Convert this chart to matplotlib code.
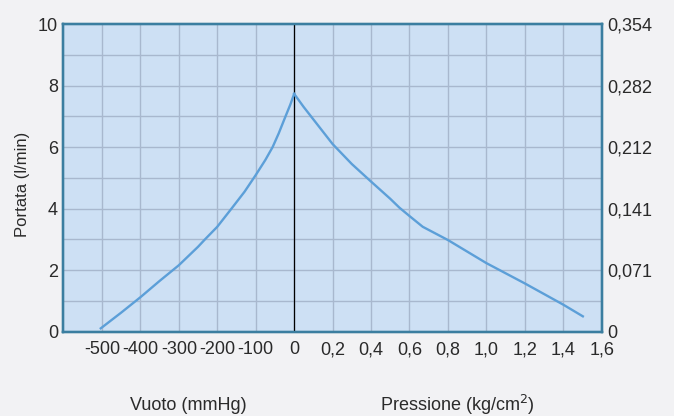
import matplotlib
matplotlib.use("Agg")
import matplotlib.pyplot as plt

# Data
vuoto_mmhg = [-503, -450, -400, -350, -300, -250, -232, -200,
              -163, -150, -129, -100, -75, -56, -40, -24, -10, 0]
vuoto_portata = [0.11, 0.62, 1.12, 1.65, 2.16, 2.76, 3.0, 3.41,
                 4.0, 4.21, 4.55, 5.09, 5.58, 6.0, 6.45, 6.95, 7.38, 7.73]
pressione_kg = [0, 0.05, 0.1, 0.2, 0.3, 0.4, 0.5, 0.548, 0.6, 0.669,
                0.8, 1.0, 1.2, 1.4, 1.502]
pressione_portata = [7.73, 7.3, 6.9, 6.1, 5.45, 4.88, 4.32, 4.03, 3.76, 3.41,
                     2.98, 2.23, 1.57, 0.88, 0.5]

vuoto_ticks = [-500, -400, -300, -200, -100, 0]
vuoto_labels = ["-500", "-400", "-300", "-200", "-100", "0"]
press_ticks = [0.2, 0.4, 0.6, 0.8, 1.0, 1.2, 1.4, 1.6]
press_labels = ["0,2", "0,4", "0,6", "0,8", "1,0", "1,2", "1,4", "1,6"]
left_ticks = [0, 2, 4, 6, 8, 10]
right_labels = ["0", "0,071", "0,141", "0,212", "0,282", "0,354"]

plt.rcParams['font.family'] = ['Liberation Sans', 'DejaVu Sans']

bg = "#f2f2f4"
face = "#cde0f4"
gridc = "#a8b8ce"
spinec = "#3b7ea0"
linec = "#5c9fd8"
txt = "#2a2a2a"
fs = 13

fig = plt.figure(figsize=(6.74, 4.16), dpi=100, facecolor=bg)
ax = fig.add_axes([0.0942, 0.2026, 0.7985, 0.7397])
ax.set_facecolor(face)
ax.set_xlim(-600, 800)
ax.set_ylim(0, 10)

# grid lines every unit
for y in range(1, 10):
    ax.axhline(y, color=gridc, lw=1.0, zorder=1)
for x in range(-500, 800, 100):
    ax.axvline(x, color=gridc, lw=1.0, zorder=1)
ax.axvline(0, color="black", lw=0.9, zorder=3)

ax.plot(vuoto_mmhg, vuoto_portata, color=linec, lw=1.7, zorder=4,
        solid_joinstyle='round')

ax.set_xticks(vuoto_ticks)
ax.set_xticklabels(vuoto_labels)
ax.set_yticks(left_ticks)
ax.tick_params(axis='x', length=0, labelsize=fs, colors=txt, pad=7)
ax.tick_params(axis='y', length=0, labelsize=fs, colors=txt, pad=4)

# pressure scale on a twin x axis sharing the plot area
ax2 = ax.twiny()
ax2.set_xlim(-1.2, 1.6)
ax2.xaxis.set_ticks_position('bottom')
ax2.plot(pressione_kg, pressione_portata, color=linec, lw=1.7, zorder=4,
         solid_joinstyle='round')
ax2.set_xticks(press_ticks)
ax2.set_xticklabels(press_labels)
ax2.tick_params(axis='x', length=0, labelsize=fs, colors=txt, pad=7)
ax2.set_ylim(0, 10)

ax3 = ax.twinx()
ax3.set_ylim(0, 10)
ax3.set_yticks(left_ticks)
ax3.set_yticklabels(right_labels)
ax3.tick_params(axis='y', length=0, labelsize=fs, colors=txt, pad=4)

for a in (ax, ax2, ax3):
    for s in a.spines.values():
        s.set_color(spinec)
        s.set_linewidth(1.6)

fig.text(22 / 674, 1 - 184 / 416, "Portata (l/min)", ha='center', va='center',
         rotation=90, fontsize=12, color=txt)
fig.text(188 / 674, 1 - 405 / 416, "Vuoto (mmHg)", ha='center', va='center',
         fontsize=fs, color=txt)
fig.text(457 / 674, 1 - 405 / 416, "Pressione (kg/cm$^2$)", ha='center', va='center',
         fontsize=fs, color=txt)

fig.savefig("out.png", dpi=100, facecolor=bg)
